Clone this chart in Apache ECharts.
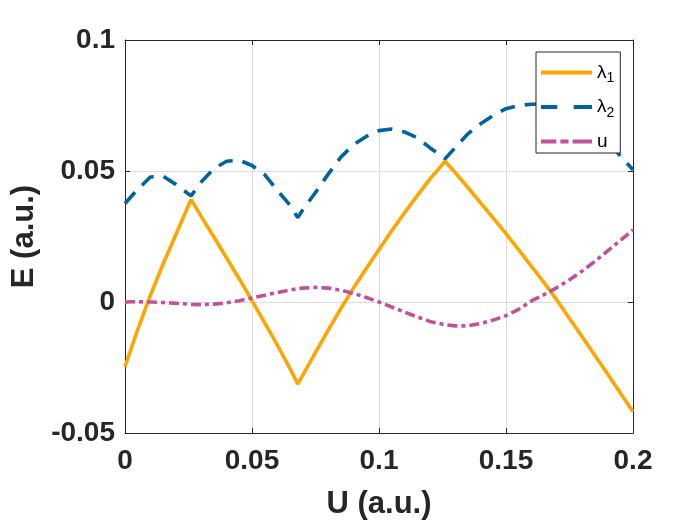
<!DOCTYPE html>
<html>
<head>
<meta charset="utf-8">
<script src="https://cdn.jsdelivr.net/npm/echarts@6/dist/echarts.min.js"></script>
<style>
  html, body { margin: 0; padding: 0; background: #fff; }
  #main { width: 700px; height: 525px; }
</style>
</head>
<body>
<div id="main"></div>
<script>
// sample positions along U (a.u.)
var uVals = [0, 0.005, 0.01, 0.015, 0.02, 0.026, 0.03, 0.035, 0.04, 0.045,
  0.05, 0.055, 0.06, 0.065, 0.068, 0.07, 0.075, 0.08, 0.085, 0.09,
  0.095, 0.1, 0.105, 0.11, 0.115, 0.12, 0.126, 0.13, 0.135, 0.14,
  0.145, 0.15, 0.155, 0.16, 0.165, 0.17, 0.175, 0.18, 0.185, 0.19,
  0.195, 0.2];

var lambda1 = [-0.0247, -0.0105, 0.0025, 0.0145, 0.0257, 0.0391, 0.0327, 0.0248, 0.0168, 0.0088,
  0.0005, -0.008, -0.0165, -0.0255, -0.0313, -0.0279, -0.0192, -0.0107, -0.0025, 0.0054,
  0.0128, 0.02, 0.0272, 0.034, 0.0405, 0.0469, 0.0537, 0.0494, 0.0437, 0.0378,
  0.032, 0.0261, 0.0199, 0.0136, 0.0074, 0.0008, -0.0063, -0.0133, -0.0204, -0.0275,
  -0.0347, -0.0419];

var lambda2 = [0.0376, 0.043, 0.0477, 0.048, 0.0449, 0.0405, 0.0458, 0.0509, 0.0537, 0.0541,
  0.0521, 0.0486, 0.0426, 0.0369, 0.0322, 0.0352, 0.0418, 0.0488, 0.0553, 0.0601,
  0.0632, 0.0654, 0.066, 0.0649, 0.0627, 0.0589, 0.0547, 0.0589, 0.0642, 0.068,
  0.0712, 0.0738, 0.075, 0.0755, 0.0756, 0.075, 0.0735, 0.0708, 0.067, 0.062,
  0.0557, 0.0505];

var uLine = [0, 0.0001, 0, -0.0002, -0.0005, -0.0009, -0.001, -0.0008, -0.0003, 0.0005,
  0.0015, 0.0026, 0.0036, 0.0046, 0.0051, 0.0053, 0.0056, 0.0053, 0.0045, 0.0033,
  0.0017, 0, -0.0019, -0.0038, -0.0057, -0.0074, -0.0087, -0.0091, -0.0091, -0.0082,
  -0.0069, -0.0052, -0.0028, 0.0004, 0.0028, 0.0055, 0.0085, 0.0118, 0.0155, 0.0195,
  0.0235, 0.0275];

var xTicks = [0, 0.05, 0.1, 0.15, 0.2];
var yTicks = [-0.05, 0, 0.05, 0.1];

function pairs(ys) {
  return uVals.map(function (x, i) { return [x, ys[i]]; });
}

function tickText(v) {
  return String(Math.round(v * 1000) / 1000);
}

var axisColor = '#262626';
var font = 'Liberation Sans, Arial, Helvetica, sans-serif';

// legend swatches drawn as little bars so the dashes look like the plot's
var iconSolid = 'path://M0,0h50v4h-50z';
var iconDash = 'path://M0,0h16v4h-16z M32,0h18v4h-18z';
var iconDashDot = 'path://M0,0h15v4h-15z M19,0h8v4h-8z M31,0h19v4h-19z';

var chart = echarts.init(document.getElementById('main'));

var frameAxis = {
  axisLine: { show: true, onZero: false, lineStyle: { color: axisColor, width: 1 } },
  axisTick: { show: true, inside: true, length: 5, lineStyle: { color: axisColor } },
  axisLabel: { show: false },
  splitLine: { show: false }
};

chart.setOption({
  animation: false,
  grid: { left: 125, top: 40, right: 67, bottom: 92 },
  xAxis: [
    {
      type: 'value',
      min: xTicks[0], max: xTicks[xTicks.length - 1], interval: 0.05,
      position: 'bottom',
      name: 'U (a.u.)',
      nameLocation: 'middle',
      nameGap: 56,
      nameTextStyle: { fontFamily: font, fontSize: 31, fontWeight: 'bold', color: axisColor },
      axisLine: { show: true, onZero: false, lineStyle: { color: axisColor, width: 1 } },
      axisTick: { show: true, inside: true, length: 5, lineStyle: { color: axisColor } },
      axisLabel: {
        margin: 14, fontFamily: font, fontSize: 28, fontWeight: 'bold', color: axisColor,
        formatter: tickText
      },
      splitLine: { show: true, lineStyle: { color: '#dcdcdc', width: 1 } }
    },
    Object.assign({
      type: 'value', position: 'top',
      min: xTicks[0], max: xTicks[xTicks.length - 1], interval: 0.05
    }, frameAxis)
  ],
  yAxis: [
    {
      type: 'value',
      min: yTicks[0], max: yTicks[yTicks.length - 1], interval: 0.05,
      position: 'left',
      name: 'E (a.u.)',
      nameLocation: 'middle',
      nameGap: 83,
      nameTextStyle: { fontFamily: font, fontSize: 31, fontWeight: 'bold', color: axisColor },
      axisLine: { show: true, onZero: false, lineStyle: { color: axisColor, width: 1 } },
      axisTick: { show: true, inside: true, length: 5, lineStyle: { color: axisColor } },
      axisLabel: {
        margin: 10, fontFamily: font, fontSize: 28, fontWeight: 'bold', color: axisColor,
        formatter: tickText
      },
      splitLine: { show: true, lineStyle: { color: '#dcdcdc', width: 1 } }
    },
    Object.assign({
      type: 'value', position: 'right',
      min: yTicks[0], max: yTicks[yTicks.length - 1], interval: 0.05
    }, frameAxis)
  ],
  legend: {
    orient: 'vertical',
    left: 536, top: 52,
    padding: [11, 6, 2, 5],
    itemGap: 12,
    itemWidth: 51,
    itemHeight: 14,
    backgroundColor: '#fff',
    borderColor: axisColor,
    borderWidth: 1,
    data: [
      { name: 'λ1', icon: iconSolid },
      { name: 'λ2', icon: iconDash },
      { name: 'u', icon: iconDashDot }
    ],
    formatter: function (name) {
      if (name === 'u') return '{l|u}';
      return '{l|λ}{s|' + name.slice(1) + '}';
    },
    textStyle: {
      fontFamily: font, color: '#000',
      rich: {
        l: { fontFamily: font, fontSize: 19, color: '#000' },
        s: { fontFamily: font, fontSize: 14, color: '#000', padding: [12, 0, 0, 0] }
      }
    }
  },
  series: [
    {
      name: 'λ1', type: 'line', data: pairs(lambda1),
      showSymbol: false, symbol: 'none',
      lineStyle: { color: '#ffa500', width: 3.6, type: 'solid' },
      itemStyle: { color: '#ffa500' }
    },
    {
      name: 'λ2', type: 'line', data: pairs(lambda2),
      showSymbol: false, symbol: 'none',
      lineStyle: { color: '#0063a0', width: 3.6, type: [15, 10] },
      itemStyle: { color: '#0063a0' }
    },
    {
      name: 'u', type: 'line', data: pairs(uLine),
      showSymbol: false, symbol: 'none',
      lineStyle: { color: '#c0519b', width: 3.6, type: [10, 4, 4, 4] },
      itemStyle: { color: '#c0519b' }
    }
  ]
});
</script>
</body>
</html>
